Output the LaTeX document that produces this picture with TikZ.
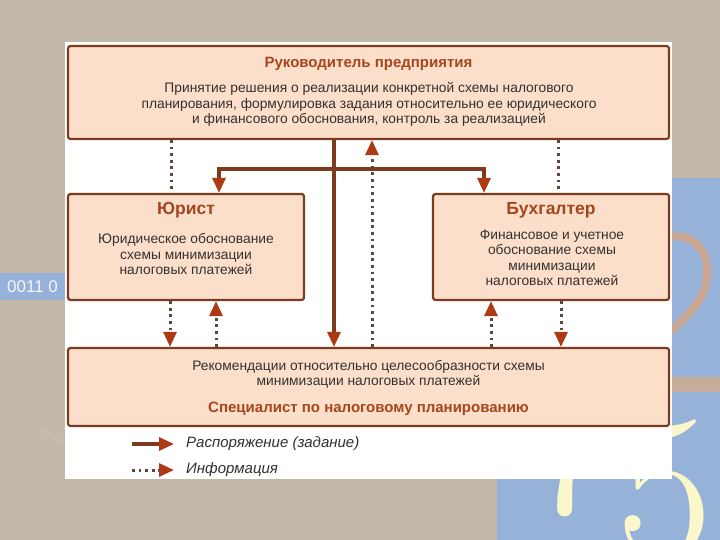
\documentclass[tikz,border=0pt]{standalone}
\usepackage{fontspec}
\usepackage{tikz}
\usetikzlibrary{arrows.meta,positioning}
\newfontfamily\arialfont{Liberation Sans}

\definecolor{bgtan}{HTML}{C3B8A9}
\definecolor{slate}{HTML}{97B2D9}
\definecolor{stripetan}{HTML}{C4AD99}
\definecolor{arctan}{HTML}{C9A792}
\definecolor{paleyellow}{HTML}{FAF7CB}
\definecolor{boxfill}{HTML}{FCDFCA}
\definecolor{boxline}{HTML}{7C3C1F}
\definecolor{headred}{HTML}{A4471E}
\definecolor{bodytext}{HTML}{35302E}
\definecolor{orderline}{HTML}{7E3A1D}
\definecolor{tipred}{HTML}{AC3A14}
\definecolor{dotgrey}{HTML}{5E463A}

\tikzset{
  box/.style={draw=boxline,line width=2.2pt,fill=boxfill,rounded corners=2.5pt,inner sep=0pt},
  head/.style={font=\arialfont\bfseries\fontsize{15}{17}\selectfont,text=headred,inner sep=0pt},
  bighead/.style={font=\arialfont\bfseries\fontsize{17.5}{20}\selectfont,text=headred,inner sep=0pt},
  body/.style={font=\arialfont\fontsize{13.8}{15.5}\selectfont,text=bodytext,align=center,inner sep=0pt},
  legend/.style={font=\arialfont\itshape\fontsize{15}{17}\selectfont,text=bodytext,anchor=west,inner ysep=0pt,inner xsep=12pt},
  order/.style={draw=orderline,line width=3.3pt},
  info/.style={draw=dotgrey,line width=3pt,dash pattern=on 2.8pt off 3.8pt}
}

\begin{document}
\begin{tikzpicture}[x=1pt,y=-1pt,>={Triangle[width=13pt,length=15pt,color=tipred]}]
\useasboundingbox (0,0) rectangle (720,540);
% slide background
  \fill[bgtan] (0,0) rectangle (720,540);
  \fill[slate] (497,178) rectangle (720,540);
  \fill[stripetan] (497,377) rectangle (720,392);
  \begin{scope}
    \clip (497,178) rectangle (720,377);
    \draw[arctan,line width=8pt] (668,237) .. controls (696,232) and (712,255) .. (706,283)
      .. controls (702,300) and (690,315) .. (668,333);
  \end{scope}
  \begin{scope}
    \clip (497,392) rectangle (720,540);
    \node[text=paleyellow,font=\fontsize{210}{210}\selectfont,anchor=base west,inner sep=0pt] (seven) at (522,513) {7};
    \node[text=paleyellow,font=\fontsize{210}{210}\selectfont,anchor=base west,inner sep=0pt] (five) at (616,558) {5};
  \end{scope}
  \draw[bgtan!92!white,line width=2.5pt] (40,428) -- (64,444);
  \fill[slate] (0,273) rectangle (65,300);
  \node[font=\arialfont\fontsize{17}{19}\selectfont,text=white!88!slate,anchor=west,inner sep=0pt] (code) at (7,287) {0011 0};
  \fill[white] (65,42) rectangle (672,479);

%Boss
  \node[box,minimum width=601pt,minimum height=93pt] (boss) at (368.5,92.5) {};
  \node[head] (bossT) at (368.5,64) {Руководитель предприятия};
  \node[body] (bossB) at (369,104.5) {Принятие решения о реализации конкретной схемы налогового\\
    планирования, формулировка задания относительно ее юридического\\
    и финансового обоснования, контроль за реализацией};
%Lawyer
  \node[box,minimum width=236pt,minimum height=106pt] (lawyer) at (186,247) {};
  \node[bighead] (lawyerT) at (186,210) {Юрист};
  \node[body] (lawyerB) at (186,254.5) {Юридическое обоснование\\схемы минимизации\\налоговых платежей};
%Accountant
  \node[box,minimum width=236pt,minimum height=106pt] (acc) at (551,247) {};
  \node[bighead] (accT) at (551,210) {Бухгалтер};
  \node[body] (accB) at (552,258) {Финансовое и учетное\\обоснование схемы\\минимизации\\налоговых платежей};
%Specialist
  \node[box,minimum width=601pt,minimum height=78pt] (spec) at (368.5,387) {};
  \node[body] (specB) at (368.5,374.5) {Рекомендации относительно целесообразности схемы\\минимизации налоговых платежей};
  \node[head] (specT) at (368.5,409) {Специалист по налоговому планированию};

% orders
  \coordinate (fork) at (334,169);
  \draw[order,->] ([xshift=-34.5pt]boss.south) -- ([xshift=-34.5pt]spec.north);
  \draw[order,<->] ([xshift=33pt]lawyer.north) |- (fork) -| ([xshift=-67pt]acc.north);
% information
  \draw[info] ([xshift=-197.5pt]boss.south) -- ([xshift=-15pt]lawyer.north);
  \draw[info] ([xshift=189.5pt]boss.south) -- ([xshift=7pt]acc.north);
  \draw[info,->] ([xshift=3.5pt]spec.north) -- ([xshift=3.5pt]boss.south);
  \draw[info,->] ([xshift=-16pt]lawyer.south) -- ([xshift=-198.5pt]spec.north);
  \draw[info,->] ([xshift=-152.5pt]spec.north) -- ([xshift=30pt]lawyer.south);
  \draw[info,->] ([xshift=122.5pt]spec.north) -- ([xshift=-60pt]acc.south);
  \draw[info,->] ([xshift=10pt]acc.south) -- ([xshift=192.5pt]spec.north);

% legend
  \coordinate (legA) at (132,444);
  \coordinate (legB) at (132,470);
  \node[legend] (legOrder) at (174,444) {Распоряжение (задание)};
  \node[legend] (legInfo) at (174,470) {Информация};
  \draw[order,->] (legA) -- (legOrder.west);
  \draw[info,->] (legB) -- (legInfo.west);
\end{tikzpicture}
\end{document}
